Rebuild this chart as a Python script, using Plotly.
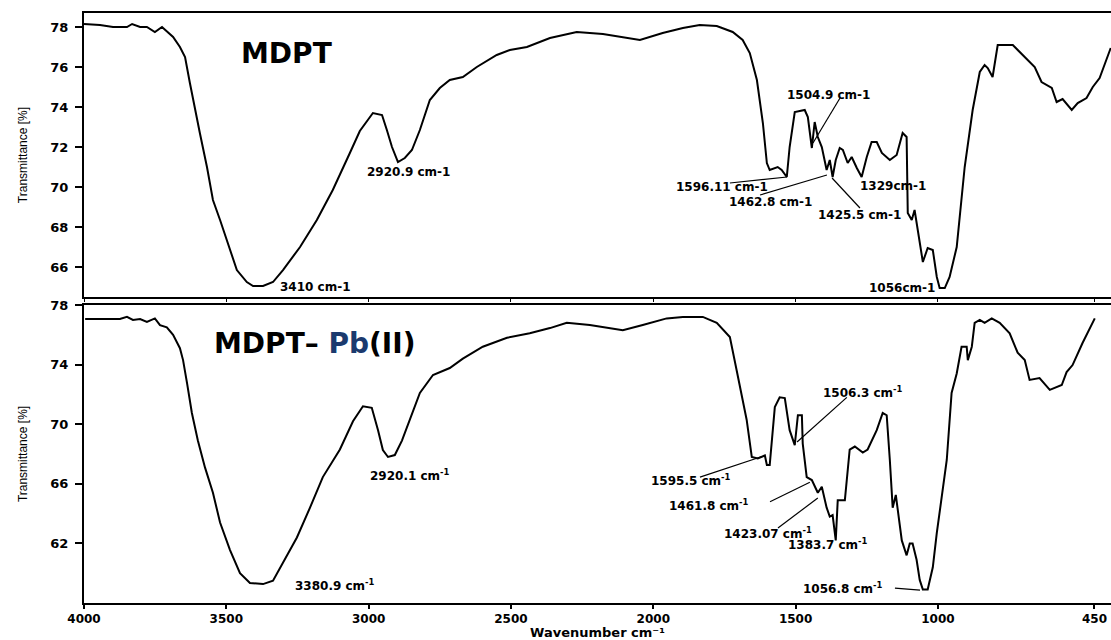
import plotly.graph_objects as go

# ---------------- data ----------------
top_wavenumber = [4000, 3944, 3898, 3849, 3831, 3803, 3779, 3751, 3726, 3709, 3687, 3663, 3645, 3628,
                  3610, 3593, 3568, 3547, 3522, 3498, 3463, 3428, 3406, 3371, 3336, 3301, 3241, 3182,
                  3126, 3066, 3031, 2985, 2953, 2936, 2918, 2897, 2873, 2848, 2820, 2785, 2750, 2715,
                  2669, 2620, 2550, 2504, 2444, 2363, 2269, 2177, 2093, 2047, 1967, 1896, 1837, 1777,
                  1721, 1686, 1661, 1636, 1615, 1601, 1591, 1563, 1549, 1531, 1521, 1503, 1468, 1457,
                  1443, 1433, 1422, 1408, 1391, 1380, 1370, 1359, 1345, 1334, 1317, 1303, 1285, 1268,
                  1250, 1233, 1215, 1197, 1169, 1145, 1124, 1110, 1106, 1092, 1082, 1064, 1053, 1036,
                  1018, 1004, 994, 976, 959, 934, 906, 878, 853, 836, 825, 808, 790, 737, 702, 660,
                  636, 600, 583, 562, 530, 509, 478, 456, 432, 393]
top_transmittance = [78.15, 78.1, 78.0, 78.0, 78.15, 78.0, 78.0, 77.75, 78.0, 77.8, 77.5, 77.0, 76.5, 75.2,
                     73.85, 72.7, 71.0, 69.35, 68.35, 67.35, 65.85, 65.25, 65.05, 65.05, 65.25, 65.85, 67.0, 68.35,
                     69.85, 71.7, 72.8, 73.7, 73.6, 72.85, 72.0, 71.25, 71.45, 71.85, 72.85, 74.35, 74.95, 75.35,
                     75.5, 76.0, 76.6, 76.85, 77.0, 77.45, 77.75, 77.65, 77.45, 77.35, 77.7, 77.95, 78.1, 78.05,
                     77.75, 77.35, 76.7, 75.35, 73.2, 71.2, 70.85, 71.0, 70.85, 70.5, 72.0, 73.75, 73.85, 73.5,
                     71.95, 73.25, 72.5, 72.0, 70.85, 71.35, 70.5, 71.35, 71.95, 71.85, 71.2, 71.5, 70.95, 70.5,
                     71.5, 72.25, 72.25, 71.7, 71.35, 71.6, 72.7, 72.5, 68.7, 68.35, 68.85, 67.35, 66.25, 66.95,
                     66.85, 65.5, 64.95, 64.95, 65.5, 67.0, 71.0, 73.85, 75.75, 76.1, 75.95, 75.5, 77.1, 77.1, 76.6, 76.0,
                     75.25, 74.95, 74.25, 74.4, 73.85, 74.2, 74.45, 75.0, 75.45, 76.95]

bottom_wavenumber = [3996, 3944, 3874, 3849, 3828, 3803, 3779, 3751, 3733, 3709, 3687, 3663, 3652, 3638,
                     3621, 3600, 3575, 3547, 3522, 3487, 3452, 3417, 3371, 3336, 3301, 3252, 3206, 3161,
                     3101, 3055, 3020, 2989, 2967, 2950, 2932, 2908, 2883, 2855, 2820, 2774, 2715, 2669,
                     2599, 2514, 2434, 2363, 2304, 2223, 2107, 2037, 1953, 1896, 1826, 1777, 1731, 1707,
                     1686, 1672, 1654, 1633, 1608, 1601, 1591, 1584, 1573, 1556, 1538, 1521, 1503, 1492,
                     1478, 1475, 1461, 1443, 1433, 1422, 1408, 1391, 1380, 1370, 1359, 1352, 1327, 1310,
                     1292, 1264, 1247, 1215, 1194, 1180, 1169, 1159, 1148, 1141, 1127, 1110, 1099, 1089,
                     1075, 1064, 1053, 1036, 1018, 1004, 994, 969, 952, 934, 917, 899, 895, 881, 871, 853,
                     836, 811, 783, 748, 720, 695, 678, 643, 607, 565, 548, 527, 492, 449]
bottom_transmittance = [77.06, 77.06, 77.06, 77.2, 77.0, 77.06, 76.86, 77.1, 76.65, 76.5, 76.0, 75.1, 74.3, 72.76,
                        70.75, 68.9, 67.1, 65.4, 63.4, 61.55, 60.0, 59.34, 59.27, 59.5, 60.7, 62.4, 64.4, 66.45,
                        68.3, 70.2, 71.2, 71.1, 69.6, 68.27, 67.8, 67.93, 68.9, 70.3, 72.1, 73.3, 73.77, 74.4,
                        75.2, 75.8, 76.1, 76.45, 76.8, 76.66, 76.3, 76.66, 77.1, 77.2, 77.2, 76.8, 75.85, 73.6,
                        71.6, 70.3, 67.8, 67.7, 67.9, 67.26, 67.26, 68.9, 71.15, 71.8, 71.75, 69.6, 68.6, 70.6,
                        70.6, 68.7, 66.45, 66.25, 65.8, 65.4, 65.8, 64.4, 63.8, 63.9, 62.2, 64.9, 64.9, 68.3,
                        68.5, 68.1, 68.3, 69.6, 70.75, 70.6, 67.6, 64.4, 65.25, 64.1, 62.2, 61.2, 62.0, 62.0,
                        60.9, 59.55, 58.9, 58.9, 60.4, 62.7, 64.0, 67.6, 72.1, 73.4, 75.2, 75.2, 74.3, 75.2, 76.8, 77.0,
                        76.8, 77.1, 76.8, 76.1, 74.8, 74.3, 72.97, 73.1, 72.3, 72.63, 73.5, 73.97, 75.45, 77.1]

x_tick_values = [4000, 3500, 3000, 2500, 2000, 1500, 1000, 450]
x_tick_labels = ["4000", "3500", "3000", "2500", "2000", "1500", "1000", "450"]
top_y_ticks = [66, 68, 70, 72, 74, 76, 78]
bottom_y_ticks = [62, 66, 70, 74, 78]

# peak labels: text, label wavenumber, label transmittance
top_peak_labels = ["3410 cm-1", "2920.9 cm-1", "1504.9 cm-1", "1596.11 cm-1", "1462.8 cm-1",
                   "1425.5 cm-1", "1329cm-1", "1056cm-1"]
top_label_wn = [3187, 2860, 1385, 1757, 1590, 1276, 1158, 1127]
top_label_t = [65.0, 70.75, 74.6, 70.0, 69.25, 68.6, 70.05, 64.95]
# leader lines: (wn0, t0, wn1, t1)
top_leaders = [(1344, 74.45, 1439, 72.2), (1731, 70.2, 1530, 70.5),
               (1625, 69.6, 1390, 70.6), (1274, 68.95, 1372, 70.45)]

bottom_peak_labels = ["3380.9 cm<sup>-1</sup>", "2920.1 cm<sup>-1</sup>", "1595.5 cm<sup>-1</sup>",
                      "1506.3 cm<sup>-1</sup>", "1461.8 cm<sup>-1</sup>", "1423.07 cm<sup>-1</sup>",
                      "1383.7 cm<sup>-1</sup>", "1056.8 cm<sup>-1</sup>"]
bottom_label_wn = [3118, 2855, 1868, 1262, 1805, 1596, 1385, 1334]
bottom_label_t = [59.2, 66.6, 66.25, 72.16, 64.6, 62.7, 61.96, 59.0]
bottom_leaders = [(1836, 66.45, 1615, 67.85), (1320, 71.8, 1495, 68.8),
                  (1590, 64.8, 1450, 66.1), (1562, 63.03, 1422, 65.05),
                  (1151, 59.0, 1063, 58.87)]

# ---------------- figure ----------------
fig = go.Figure()
fig.add_trace(go.Scatter(x=top_wavenumber, y=top_transmittance, mode="lines",
                         line=dict(color="black", width=2), xaxis="x", yaxis="y",
                         showlegend=False, hoverinfo="skip"))
fig.add_trace(go.Scatter(x=bottom_wavenumber, y=bottom_transmittance, mode="lines",
                         line=dict(color="black", width=2), xaxis="x2", yaxis="y2",
                         showlegend=False, hoverinfo="skip"))

tick_font = dict(family="DejaVu Sans", size=13, color="black", weight="bold")
x_common = dict(range=[4000, 392], showline=True, linecolor="black", linewidth=2, mirror=True,
                showgrid=False, zeroline=False, ticks="outside", tickcolor="black",
                tickvals=x_tick_values, ticktext=x_tick_labels)
y_common = dict(showline=True, linecolor="black", linewidth=2, mirror=False, showgrid=False,
                zeroline=False, ticks="outside", ticklen=7, tickwidth=1.5, tickcolor="black",
                tickfont=tick_font, ticklabelstandoff=4,
                title=dict(text="Transmittance [%]", font=dict(family="Liberation Sans", size=12, color="black"),
                           standoff=20))

fig.update_layout(
    width=1111, height=640,
    margin=dict(l=84, r=0, t=13, b=37),
    paper_bgcolor="white", plot_bgcolor="white",
    xaxis=dict(domain=[0, 1], anchor="y", showticklabels=False, ticklen=3, **x_common),
    yaxis=dict(domain=[0.5186, 1.0], anchor="x", range=[64.5, 78.7], tickvals=top_y_ticks, **y_common),
    xaxis2=dict(domain=[0, 1], anchor="y2", ticklen=4, tickwidth=2,
                tickfont=dict(family="DejaVu Sans", size=12, color="black", weight="bold"),
                ticklabelstandoff=0,
                title=dict(text="Wavenumber cm\u207b\u00b9",
                           font=dict(family="DejaVu Sans", size=13, color="black", weight="bold"),
                           standoff=3),
                **x_common),
    yaxis2=dict(domain=[0.0, 0.5051], anchor="x2", range=[58, 78], tickvals=bottom_y_ticks, **y_common),
)

label_font = dict(family="DejaVu Sans", size=12, color="black", weight="bold")
annotations = []
for txt, wn, t in zip(top_peak_labels, top_label_wn, top_label_t):
    annotations.append(dict(text=txt, x=wn, y=t, xref="x", yref="y", showarrow=False,
                            font=label_font, xanchor="center", yanchor="middle"))
for txt, wn, t in zip(bottom_peak_labels, bottom_label_wn, bottom_label_t):
    annotations.append(dict(text=txt, x=wn, y=t, xref="x2", yref="y2", showarrow=False,
                            font=label_font, xanchor="center", yanchor="middle"))
annotations.append(dict(text="MDPT", x=3289, y=76.7, xref="x", yref="y", showarrow=False,
                        font=dict(family="DejaVu Sans", size=28, color="black", weight="bold"),
                        xanchor="center", yanchor="middle"))
annotations.append(dict(text="MDPT\u2013 <span style='color:#1b3a6e'>Pb</span>(II)", x=3190, y=75.4,
                        xref="x2", yref="y2", showarrow=False,
                        font=dict(family="DejaVu Sans", size=28, color="black", weight="bold"),
                        xanchor="center", yanchor="middle"))
fig.update_layout(annotations=annotations)

shapes = []
for (w0, t0, w1, t1) in top_leaders:
    shapes.append(dict(type="line", x0=w0, y0=t0, x1=w1, y1=t1, xref="x", yref="y",
                       line=dict(color="black", width=1.2)))
for (w0, t0, w1, t1) in bottom_leaders:
    shapes.append(dict(type="line", x0=w0, y0=t0, x1=w1, y1=t1, xref="x2", yref="y2",
                       line=dict(color="black", width=1.2)))
fig.update_layout(shapes=shapes)

fig.write_html("out.html", config={"displayModeBar": False},
               post_script="document.body.style.margin='0';document.body.style.overflow='hidden';")
